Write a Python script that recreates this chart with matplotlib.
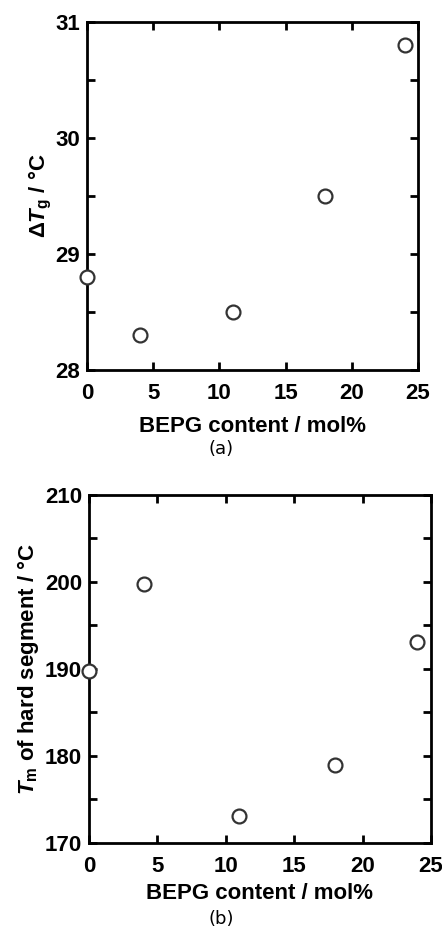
import matplotlib
matplotlib.use('Agg')
import matplotlib.pyplot as plt
from matplotlib.ticker import MultipleLocator

plt.rcParams['font.family'] = ['Liberation Sans', 'DejaVu Sans']
plt.rcParams['font.weight'] = 'bold'
plt.rcParams['mathtext.fontset'] = 'custom'
plt.rcParams['mathtext.rm'] = 'Liberation Sans:bold'
plt.rcParams['mathtext.bf'] = 'Liberation Sans:bold'
plt.rcParams['mathtext.it'] = 'Liberation Sans:italic:bold'

# data
bepg_a = [0, 4, 11, 18, 24]
dtg = [28.8, 28.3, 28.5, 29.5, 30.8]

bepg_b = [0, 4, 11, 18, 24]
tm_hard = [189.8, 199.8, 173.1, 179.0, 193.1]

fig = plt.figure(figsize=(4.42, 9.38), dpi=100)
W, H = 442, 938


def style_axes(ax):
    for s in ax.spines.values():
        s.set_linewidth(2)
    ax.tick_params(which='both', direction='in', top=True, right=True,
                   width=2, length=6, labelsize=16)
    ax.tick_params(axis='x', pad=9)
    ax.tick_params(axis='y', pad=5)
    for lab in ax.get_xticklabels() + ax.get_yticklabels():
        lab.set_fontweight('bold')
        lab.set_family('Liberation Sans')


def scatter(ax, x, y):
    ax.plot(x, y, 'o', ms=10, mfc='white', mec='#333333', mew=1.6,
            clip_on=False, zorder=5)


# (a)
ax1 = fig.add_axes([87 / W, 1 - 370 / H, (418 - 87) / W, (370 - 22) / H])
scatter(ax1, bepg_a, dtg)
ax1.set_xlim(0, 25)
ax1.set_ylim(28, 31)
ax1.xaxis.set_major_locator(MultipleLocator(5))
ax1.yaxis.set_major_locator(MultipleLocator(1))
ax1.yaxis.set_minor_locator(MultipleLocator(0.5))
style_axes(ax1)
ax1.set_xlabel('BEPG content / mol%', fontsize=16, fontweight='bold', labelpad=9)
ax1.set_ylabel(r'$\Delta\mathit{T}_{\mathrm{g}}$ / °C', fontsize=16, fontweight='bold', labelpad=1)
fig.text(0.5, 1 - 449 / H, '(a)', ha='center', va='center', fontsize=13,
         fontweight='normal', family='DejaVu Sans')

# (b)
ax2 = fig.add_axes([89 / W, 1 - 843 / H, (431 - 89) / W, (843 - 495) / H])
scatter(ax2, bepg_b, tm_hard)
ax2.set_xlim(0, 25)
ax2.set_ylim(170, 210)
ax2.xaxis.set_major_locator(MultipleLocator(5))
ax2.yaxis.set_major_locator(MultipleLocator(10))
ax2.yaxis.set_minor_locator(MultipleLocator(5))
style_axes(ax2)
ax2.set_xlabel('BEPG content / mol%', fontsize=16, fontweight='bold', labelpad=5)
ax2.set_ylabel(r'$\mathit{T}_{\mathrm{m}}$ of hard segment / °C', fontsize=16,
               fontweight='bold', labelpad=3)
fig.text(0.5, 1 - 919 / H, '(b)', ha='center', va='center', fontsize=13,
         fontweight='normal', family='DejaVu Sans')

fig.savefig('out.png', dpi=100, facecolor='white')
